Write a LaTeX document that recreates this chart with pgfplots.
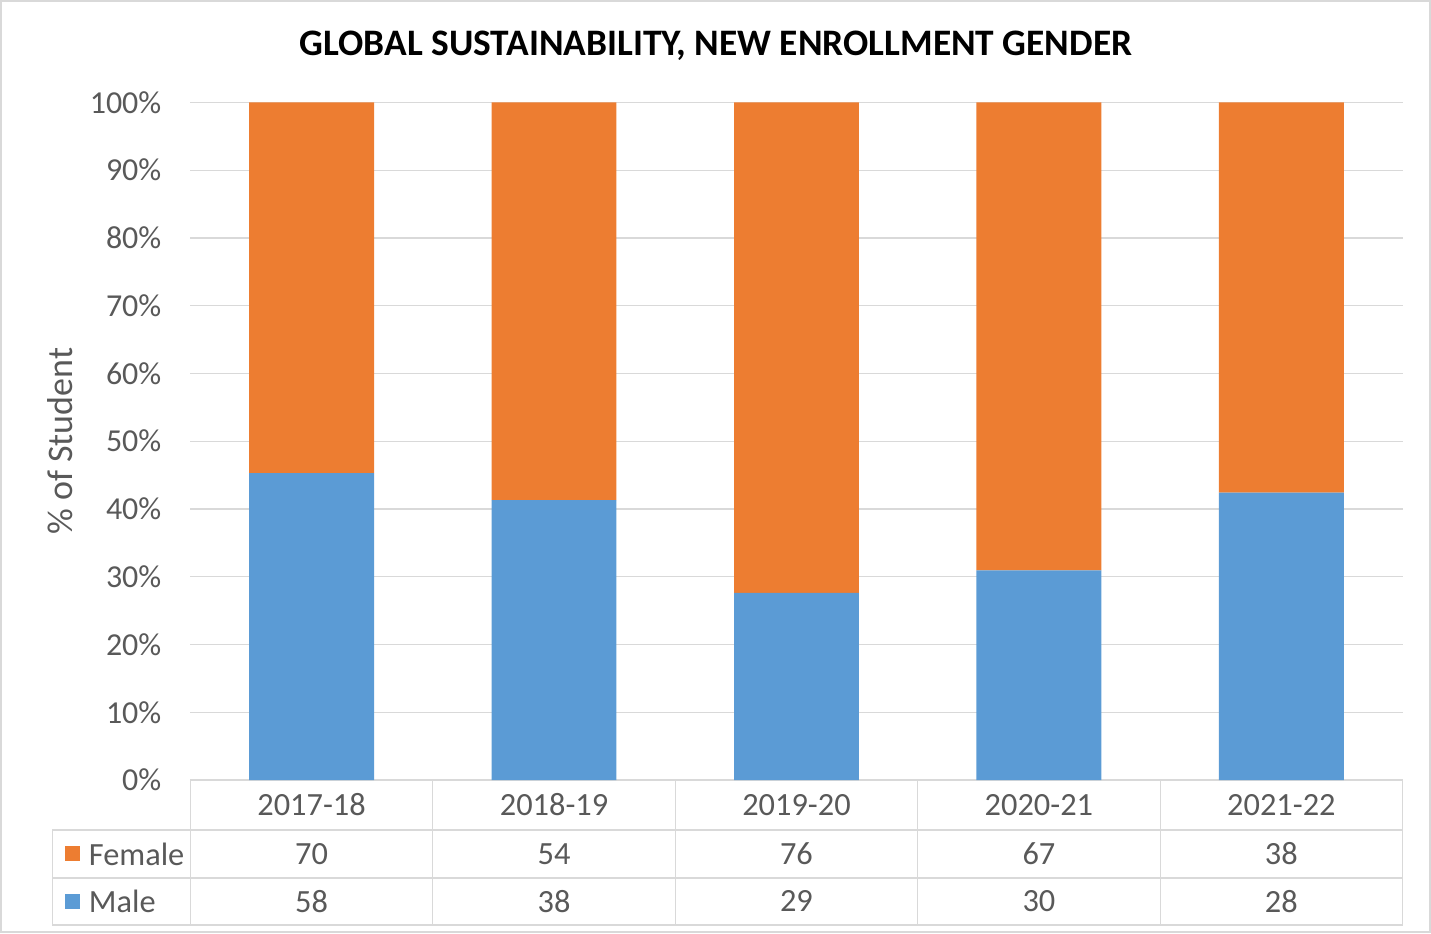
\documentclass[border=0pt]{standalone}
\usepackage{pgfplots}
\pgfplotsset{compat=1.18}
\usepackage{pgfplotstable}
\usepackage{fontspec}
\setmainfont{Carlito}
\definecolor{cOrange}{HTML}{ED7D31}
\definecolor{cBlue}{HTML}{5B9BD5}
\definecolor{cText}{HTML}{595959}
\definecolor{cGrid}{HTML}{D9D9D9}
\pgfplotstableread{
x   male   female  mcount fcount
0.5 45.31  54.69   58     70
1.5 41.30  58.70   38     54
2.5 27.62  72.38   29     76
3.5 30.93  69.07   30     67
4.5 42.42  57.58   28     38
}\datatable
\tikzset{tt/.style={text=cText, font=\fontsize{16.2}{18}\selectfont}}
\begin{document}
\begin{tikzpicture}
\begin{axis}[
  scale only axis,
  width=606.5pt, height=339pt,
  xmin=0, xmax=5, ymin=0, ymax=100,
  ybar stacked, bar width=62.5pt,
  axis line style={draw=none},
  major tick length=0pt,
  ymajorgrids, grid style={cGrid, line width=0.6pt},
  ytick={0,10,...,100},
  yticklabel={\pgfmathprintnumber{\tick}\%},
  yticklabel style={font=\fontsize{16}{18}\selectfont, text=cText, xshift=-11pt},
  /pgf/number format/assume math mode=true,
  xtick=\empty,
  ylabel={\% of Student},
  ylabel style={at={(axis description cs:-0.107,0.5)}, anchor=center, font=\fontsize{18}{20}\selectfont, text=cText},
  clip=false,
]
\addplot[fill=cBlue, draw=none] table[x=x, y=male] {\datatable};
\addplot[fill=cOrange, draw=none] table[x=x, y=female] {\datatable};

% table lines
\draw[cGrid, line width=0.6pt] (axis cs:0,0) -- (axis cs:5,0);
\draw[cGrid, line width=0.6pt] (axis cs:-0.569,-7.37) -- (axis cs:5,-7.37);
\draw[cGrid, line width=0.6pt] (axis cs:-0.569,-14.45) -- (axis cs:5,-14.45);
\draw[cGrid, line width=0.6pt] (axis cs:-0.569,-21.39) -- (axis cs:5,-21.39);
\draw[cGrid, line width=0.6pt] (axis cs:-0.569,-7.37) -- (axis cs:-0.569,-21.39);
\draw[cGrid, line width=0.6pt] (axis cs:0,0) -- (axis cs:0,-21.39);
\draw[cGrid, line width=0.6pt] (axis cs:1,0) -- (axis cs:1,-21.39);
\draw[cGrid, line width=0.6pt] (axis cs:2,0) -- (axis cs:2,-21.39);
\draw[cGrid, line width=0.6pt] (axis cs:3,0) -- (axis cs:3,-21.39);
\draw[cGrid, line width=0.6pt] (axis cs:4,0) -- (axis cs:4,-21.39);
\draw[cGrid, line width=0.6pt] (axis cs:5,0) -- (axis cs:5,-21.39);
% year labels
\node[tt] at (axis cs:0.5,-3.69) {2017-18};
\node[tt] at (axis cs:1.5,-3.69) {2018-19};
\node[tt] at (axis cs:2.5,-3.69) {2019-20};
\node[tt] at (axis cs:3.5,-3.69) {2020-21};
\node[tt] at (axis cs:4.5,-3.69) {2021-22};
% counts: female
\node[tt] at (axis cs:0.5,-10.91) {70};
\node[tt] at (axis cs:1.5,-10.91) {54};
\node[tt] at (axis cs:2.5,-10.91) {76};
\node[tt] at (axis cs:3.5,-10.91) {67};
\node[tt] at (axis cs:4.5,-10.91) {38};
% counts: male
\node[tt] at (axis cs:0.5,-17.92) {58};
\node[tt] at (axis cs:1.5,-17.92) {38};
\node[tt] at (axis cs:2.5,-17.92) {29};
\node[tt] at (axis cs:3.5,-17.92) {30};
\node[tt] at (axis cs:4.5,-17.92) {28};
% legend keys
\node[fill=cOrange, minimum size=7.5pt, inner sep=0pt] at (axis cs:-0.485,-10.91) {};
\node[fill=cBlue, minimum size=7.5pt, inner sep=0pt] at (axis cs:-0.485,-17.92) {};
\node[tt, anchor=west, inner sep=0pt] at (axis cs:-0.42,-10.91) {Female};
\node[tt, anchor=west, inner sep=0pt] at (axis cs:-0.42,-17.92) {Male};
% title
\node[font=\bfseries\fontsize{18.7}{21}\selectfont, text=black] at (axis cs:2.168,108.4) {GLOBAL SUSTAINABILITY, NEW ENROLLMENT GENDER};
% border
\draw[cGrid, line width=1pt] (axis cs:-0.781,-22.5) rectangle (axis cs:5.113,114.97);
\end{axis}
\end{tikzpicture}
\end{document}
